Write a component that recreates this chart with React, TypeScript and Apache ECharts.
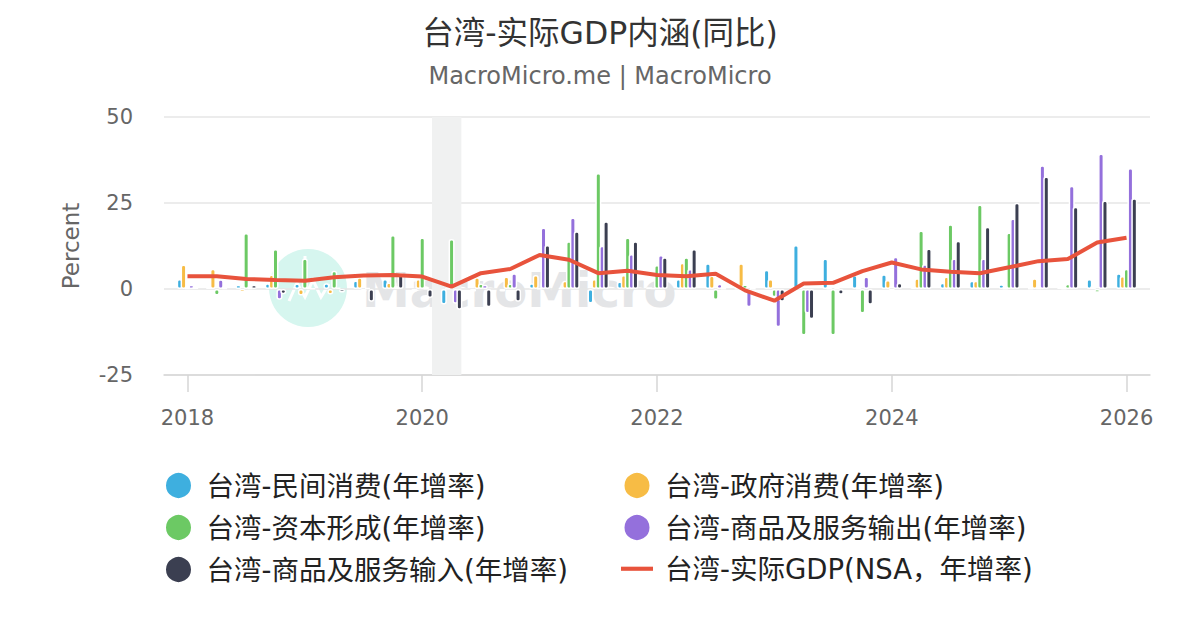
import React, { useEffect, useRef } from "react";
import * as echarts from "echarts";

// Quarterly periods (2018Q1 – 2026Q1)
const quarters = [
  "2018Q1", "2018Q2", "2018Q3", "2018Q4",
  "2019Q1", "2019Q2", "2019Q3", "2019Q4",
  "2020Q1", "2020Q2", "2020Q3", "2020Q4",
  "2021Q1", "2021Q2", "2021Q3", "2021Q4",
  "2022Q1", "2022Q2", "2022Q3", "2022Q4",
  "2023Q1", "2023Q2", "2023Q3", "2023Q4",
  "2024Q1", "2024Q2", "2024Q3", "2024Q4",
  "2025Q1", "2025Q2", "2025Q3", "2025Q4",
  "2026Q1",
];

const privateConsumption = [
  2.9, 0.5, 1.2, 1.7, 1.6, 1.7, 2.5, 2.9, -0.7, -4.5, -0.7, -0.7,
  1.7, 0.3, -4.2, 2.2, 0.5, 2.9, 7.5, 0.2, 5.6, 12.8, 8.9, 4.1,
  4.3, 0.8, 1.8, 2.4, 1.4, 0.2, 0.7, 2.9, 4.6,
];
const governmentConsumption = [
  7.1, 5.9, -1.0, 4.2, -1.9, -1.6, 3.4, 1.9, 2.9, 0.2, 3.4, 3.6,
  4.1, 2.4, 2.9, 4.1, 0.3, 7.6, 3.9, 7.5, 2.9, 0.3, 0.2, 0.2,
  2.6, 3.1, 3.6, 2.4, 0.2, 3.1, 0.2, 0.9, 3.8,
];
const capitalFormation = [
  0.3, -1.9, 16.3, 11.6, 8.9, 5.3, -0.8, 15.7, 15.0, 14.5, 1.6, 1.6,
  0.2, 13.9, 33.7, 15.0, 7.0, 9.2, -3.2, 1.3, -2.4, -13.5, -13.5, -7.1,
  -0.6, 17.0, 18.8, 24.6, 16.4, 0.3, 1.5, -1.1, 5.9,
];
const exportsGS = [
  1.2, 2.8, 0.3, -3.1, 0.5, 0.4, 0.3, 0.8, 0.2, -4.3, 1.2, 4.6,
  17.9, 20.8, 12.6, 10.2, 9.9, 5.8, 1.5, -5.3, -11.1, -7.1, 0.2, 3.6,
  9.4, 7.2, 8.9, 8.9, 20.5, 36.0, 30.0, 39.4, 35.2,
];
const importsGS = [
  0.5, 0.3, 1.2, -1.5, 0.2, -1.0, -3.7, 4.7, -2.6, -6.0, -5.3, -3.7,
  12.8, 16.8, 19.7, 13.9, 9.2, 11.6, 0.2, 0.1, -3.7, -8.8, -1.7, -4.6,
  1.8, 11.8, 14.0, 18.1, 25.1, 32.7, 23.9, 25.7, 26.4,
];
const realGDP = [
  3.7, 3.7, 2.9, 2.6, 2.4, 3.4, 3.9, 4.1, 3.6, 0.7, 4.6, 5.8,
  9.9, 8.5, 4.6, 5.3, 4.1, 3.7, 4.4, -0.4, -3.4, 1.6, 1.8, 5.2,
  7.7, 5.7, 5.0, 4.6, 6.3, 8.1, 8.7, 13.5, 14.9,
];

const tickYears = [2018, 2020, 2022, 2024, 2026];
const yTicks = { min: -25, max: 50, interval: 25 };
// recession shading (fractional years: Feb 2020 – May 2020)
const recessions = [[2020 + 1 / 12, 2020 + 4 / 12]];

const seriesNames = {
  pc: "台湾-民间消费(年增率)",
  gc: "台湾-政府消费(年增率)",
  cf: "台湾-资本形成(年增率)",
  ex: "台湾-商品及服务输出(年增率)",
  im: "台湾-商品及服务输入(年增率)",
  gdp: "台湾-实际GDP(NSA，年增率)",
};

const colors = {
  pc: "#3eafdf",
  gc: "#f7bc45",
  cf: "#6cc964",
  ex: "#9470dc",
  im: "#3b3f51",
  gdp: "#e8533c",
};

const FONT = "'DejaVu Sans', 'Noto Sans CJK SC', sans-serif";

const toX = (q: string) => {
  const [y, n] = q.split("Q");
  return Number(y) + (Number(n) - 1) / 4;
};

const pairs = (vals: number[]) => quarters.map((q, i) => [toX(q), vals[i]]);

export default function App() {
  const ref = useRef<HTMLDivElement>(null);

  useEffect(() => {
    document.body.style.margin = "0";
    if (!ref.current) return;
    const chart = echarts.init(ref.current, undefined, { renderer: "svg" });

    const barSeries = (key: keyof typeof colors, vals: number[], extra: any = {}) => ({
      name: seriesNames[key],
      type: "bar",
      data: pairs(vals),
      barWidth: 6,
      barGap: "-35%",
      itemStyle: {
        color: colors[key],
        borderColor: "#ffffff",
        borderWidth: 1.5,
        borderRadius: 2,
      },
      z: 2,
      ...extra,
    });

    const legendText = {
      fontSize: 27.5,
      color: "#222222",
      fontFamily: FONT,
      lineHeight: 27,
      padding: [0, 0, 0, 7],
    };

    const option: any = {
      animation: false,
      backgroundColor: "#ffffff",
      textStyle: { fontFamily: FONT },
      title: [
        {
          text: "台湾-实际GDP内涵(同比)",
          left: "center",
          top: 10,
          textStyle: { fontSize: 31.5, fontWeight: "normal", color: "#333333", fontFamily: FONT, lineHeight: 36 },
        },
        {
          text: "MacroMicro.me | MacroMicro",
          left: "center",
          top: 57,
          textStyle: { fontSize: 24, fontWeight: "normal", color: "#666666", fontFamily: FONT, lineHeight: 28 },
        },
      ],
      legend: [
        {
          orient: "vertical",
          left: 164,
          top: 471,
          padding: 0,
          itemWidth: 32,
          itemHeight: 27,
          itemGap: 13,
          selectedMode: false,
          textStyle: legendText,
          data: [
            { name: seriesNames.pc, icon: "circle" },
            { name: seriesNames.cf, icon: "circle" },
            { name: seriesNames.im, icon: "circle" },
          ],
        },
        {
          orient: "vertical",
          left: 621,
          top: 471,
          padding: 0,
          itemWidth: 32,
          itemHeight: 27,
          itemGap: 13,
          selectedMode: false,
          textStyle: legendText,
          data: [
            { name: seriesNames.gc, icon: "circle" },
            { name: seriesNames.ex, icon: "circle" },
            { name: seriesNames.gdp, icon: "path://M0,0L31,0L31,4L0,4Z" },
          ],
        },
      ],
      grid: { left: 164, right: 50, top: 117, height: 258, containLabel: false },
      xAxis: {
        type: "value",
        min: 2017.8,
        max: 2026.2,
        axisLine: { show: true, onZero: false, lineStyle: { color: "#d6d6d6", width: 1.5 } },
        axisTick: { show: true, customValues: tickYears, length: 17, lineStyle: { color: "#d6d6d6", width: 1.5 } },
        axisLabel: {
          customValues: tickYears,
          formatter: (v: number) => String(Math.round(v)),
          fontSize: 21,
          color: "#666666",
          margin: 32,
          fontFamily: FONT,
        },
        splitLine: { show: false },
      },
      yAxis: {
        type: "value",
        min: yTicks.min,
        max: yTicks.max,
        interval: yTicks.interval,
        name: "Percent",
        nameLocation: "middle",
        nameGap: 82,
        nameTextStyle: { fontSize: 23, color: "#666666", fontFamily: FONT },
        axisLine: { show: false },
        axisTick: { show: false },
        axisLabel: { fontSize: 21, color: "#666666", margin: 31, fontFamily: FONT },
        splitLine: { lineStyle: { color: "#e6e6e6", width: 1.5 } },
      },
      graphic: [
        {
          type: "circle",
          silent: true,
          z: 0,
          shape: { cx: 308, cy: 288, r: 39 },
          style: { fill: "#d6f6ef" },
        },
        {
          type: "polyline",
          silent: true,
          z: 0,
          shape: { points: [[289, 301], [297, 283], [305, 297], [313, 280], [321, 297], [329, 284]] },
          style: { stroke: "#ffffff", lineWidth: 3, fill: null },
        },
        {
          type: "line",
          silent: true,
          z: 0,
          shape: { x1: 305, y1: 256, x2: 305, y2: 284 },
          style: { stroke: "#ffffff", lineWidth: 3 },
        },
        {
          type: "text",
          silent: true,
          z: 0,
          x: 362,
          y: 290,
          style: {
            text: "MacroMicro",
            font: "bold 48px 'DejaVu Sans'",
            fill: "#e4e5e7",
            verticalAlign: "middle",
          },
        },
      ],
      series: [
        barSeries("pc", privateConsumption, {
          markArea: {
            silent: true,
            itemStyle: { color: "#f0f1f1" },
            data: recessions.map(([a, b]) => [{ xAxis: a }, { xAxis: b }]),
          },
        }),
        barSeries("gc", governmentConsumption),
        barSeries("cf", capitalFormation),
        barSeries("ex", exportsGS),
        barSeries("im", importsGS),
        {
          name: seriesNames.gdp,
          type: "line",
          data: pairs(realGDP),
          showSymbol: false,
          symbol: "none",
          lineStyle: { color: colors.gdp, width: 4 },
          itemStyle: { color: colors.gdp },
          z: 4,
        },
      ],
    };

    chart.setOption(option);
    return () => chart.dispose();
  }, []);

  return <div ref={ref} style={{ width: 1200, height: 630 }} />;
}
